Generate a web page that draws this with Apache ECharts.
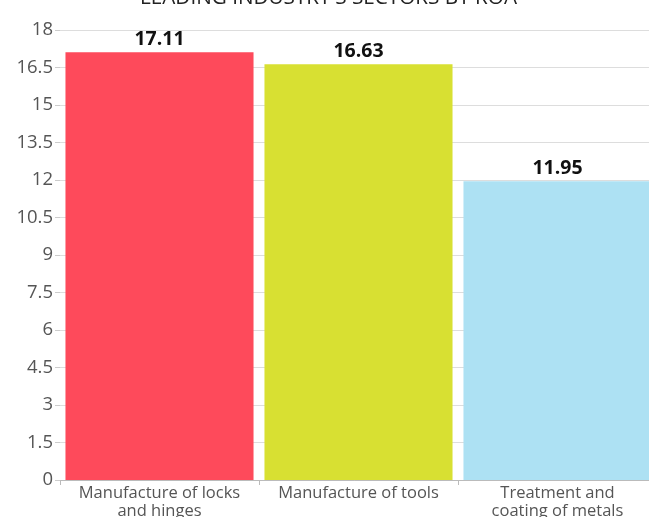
<!DOCTYPE html>
<html>
<head>
<meta charset="utf-8">
<script src="https://cdn.jsdelivr.net/npm/echarts@6/dist/echarts.min.js"></script>
<style>html,body{margin:0;padding:0;background:#fff;overflow:hidden;}#c{width:649px;height:517px;}</style>
</head>
<body>
<div id="c"></div>
<script>
var titleText = "LEADING INDUSTRY'S SECTORS BY ROA";
var categories = ["Manufacture of locks\nand hinges", "Manufacture of tools", "Treatment and\ncoating of metals"];
var values = [17.11, 16.63, 11.95];
var colors = ["#fe4a5b", "#d8e032", "#ade1f3"];
var yMin = 0, yMax = 18, yStep = 1.5;

var chart = echarts.init(document.getElementById('c'));
chart.setOption({
  animation: false,
  title: {
    text: titleText, left: 135, top: -17,
    textStyle: {fontFamily: 'Open Sans', fontSize: 20.7, fontWeight: 'normal', color: '#222'}
  },
  grid: {left: 60, width: 597, top: 30, bottom: 37, containLabel: false, outerBoundsMode: 'none'},
  xAxis: {
    type: 'category', data: categories,
    axisLine: {show: true, lineStyle: {color: '#bbb'}},
    axisTick: {show: true, length: 5, lineStyle: {color: '#bbb'}},
    axisLabel: {fontFamily: 'Open Sans', fontSize: 16.5, color: '#555', lineHeight: 18, margin: 4, interval: 0}
  },
  yAxis: {
    type: 'value', min: yMin, max: yMax, interval: yStep,
    axisLine: {show: false},
    axisTick: {show: true, length: 5, lineStyle: {color: '#ccc'}},
    splitLine: {lineStyle: {color: '#ddd'}},
    axisLabel: {fontFamily: 'Open Sans', fontSize: 18.5, color: '#555', margin: 7}
  },
  series: [{
    type: 'bar', barCategoryGap: '5.5%',
    data: values.map(function(v, i){ return {value: v, itemStyle: {color: colors[i]}}; }),
    label: {show: true, position: 'top', distance: 3, fontFamily: 'Open Sans', fontSize: 19.5, fontWeight: 'bold', color: '#111'}
  }]
});
</script>
</body>
</html>
